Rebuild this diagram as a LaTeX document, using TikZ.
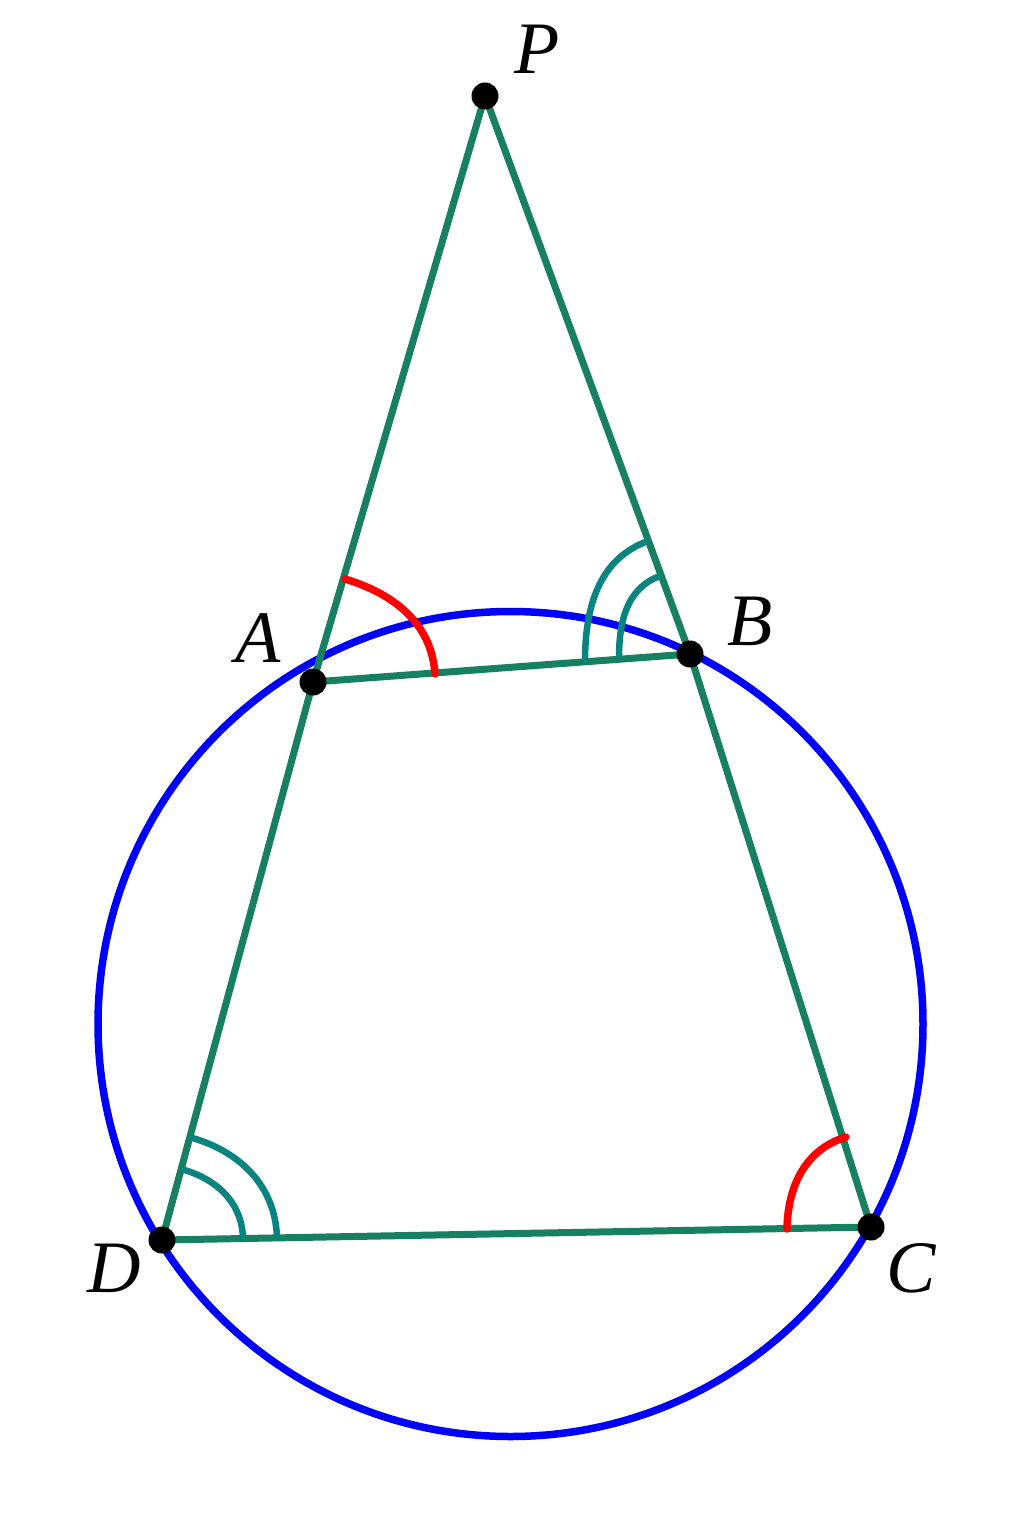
\documentclass[tikz,border=0pt]{standalone}
\usepackage{fontspec}
\setmainfont{Liberation Serif}
\begin{document}
\begin{tikzpicture}[x=1pt,y=-1pt,
  seg/.style={draw=segcol,line width=7pt},
  ring/.style={draw=blue,line width=7.5pt},
  redmark/.style={draw=red,line width=7.5pt,line cap=round},
  tealmark/.style={draw=tealcol,line width=6.5pt},
  dot/.style={circle,fill=black,inner sep=0pt,minimum size=27pt},
  lab/.style={inner sep=0pt,font=\fontsize{74}{80}\selectfont\itshape}]
\definecolor{segcol}{RGB}{22,128,96}
\definecolor{tealcol}{RGB}{8,132,128}
\useasboundingbox (0,0) rectangle (1024,1536);
\fill[white] (0,0) rectangle (1024,1536);
% circle
\draw[ring] (510.5,1024) circle (412.5pt);
% points
\coordinate (P) at (485,96);
\coordinate (A) at (313,682);
\coordinate (B) at (690,654);
\coordinate (C) at (871,1227);
\coordinate (D) at (162,1240);
% segments
\draw[seg] (P) -- (A) -- (D) -- (C) -- (B) -- (P);
\draw[seg] (A) -- (B);
% angle marks
\coordinate (a1) at (345,579);
\coordinate (a2) at (435,674);
\draw[redmark] (a1) to[out=-17,in=94] (a2);
\coordinate (b1) at (648,541);
\coordinate (b2) at (585,662);
\coordinate (b3) at (660,576);
\coordinate (b4) at (619,658);
\draw[tealmark] (b1) to[out=-160,in=90] (b2);
\draw[tealmark] (b3) to[out=-160,in=90] (b4);
\coordinate (d1) at (189,1137);
\coordinate (d2) at (277,1239);
\coordinate (d3) at (181,1169);
\coordinate (d4) at (243,1239);
\draw[tealmark] (d1) to[out=-15,in=91] (d2);
\draw[tealmark] (d3) to[out=-15,in=91] (d4);
\coordinate (c1) at (846,1137);
\coordinate (c2) at (787,1229);
\draw[redmark] (c1) to[out=-163,in=89] (c2);
% dots
\node[dot] (Pd) at (P) {};
\node[dot] (Ad) at (A) {};
\node[dot] (Bd) at (B) {};
\node[dot] (Cd) at (C) {};
\node[dot] (Dd) at (D) {};
% labels
\node[lab] (Pl) at (537,49) {P};
\node[lab] (Al) at (258,638) {A};
\node[lab] (Bl) at (750,621) {B};
\node[lab] (Cl) at (911,1268) {C};
\node[lab] (Dl) at (114,1268) {D};
\end{tikzpicture}
\end{document}
